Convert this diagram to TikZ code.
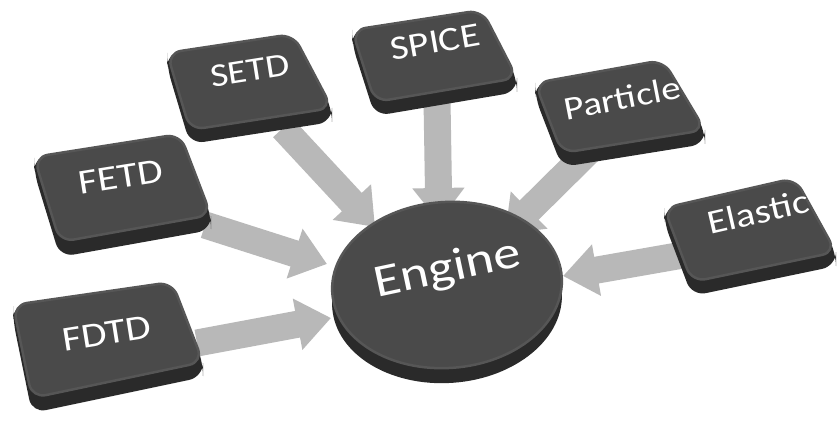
\documentclass[tikz,border=0pt]{standalone}
\usepackage{fontspec}
\setmainfont{Carlito}[FakeStretch=1.18]
\usetikzlibrary{arrows.meta}
\definecolor{keytop}{HTML}{4A4A4A}
\definecolor{keyrim}{HTML}{565656}
\definecolor{keyside}{HTML}{2A2A2A}
\definecolor{flowgray}{HTML}{B8B8B8}
\tikzset{
  flow/.style={draw=flowgray, line width=27pt, -{Triangle[width=50pt,length=34pt]}},
  sidefill/.style={fill=keyside, rounded corners=14pt},
  topfill/.style={fill=keytop, draw=keyrim, line width=2.5pt, rounded corners=14pt},
  keylabel/.style={text=white, inner sep=0pt},
}
% #1..#4 corners TL TR BR BL (bare x,y), #5 side depth
\newcommand\keybox[5]{%
  \fill[sidefill] (#1) -- (#2) -- (#3) -- ([yshift=-#5]#3) -- ([yshift=-#5]#4) -- ([yshift=-#5]#1) -- cycle;
  \path[topfill] (#1) -- (#2) -- (#3) -- (#4) -- cycle;
}
% #1 name, #2 position, #3 rotation, #4 text, #5 size
\newcommand\keytext[5]{%
  \node[keylabel, font=\fontsize{#5}{#5}\selectfont, rotate=#3] (#1) at (#2) {#4};
}
\begin{document}
\begin{tikzpicture}[x=1pt,y=-1pt]
\useasboundingbox[fill=white] (0,0) rectangle (838,425);

% arrow endpoints
\coordinate (fdtd-out) at (197,343);
\coordinate (fdtd-in)  at (331,318);
\coordinate (fetd-out) at (205,225);
\coordinate (fetd-in)  at (327,264);
\coordinate (setd-out) at (283,128);
\coordinate (setd-in)  at (375,227);
\coordinate (spice-out) at (437,100);
\coordinate (spice-in)  at (439,222);
\coordinate (part-out) at (600,140);
\coordinate (part-in)  at (505,234);
\coordinate (elas-out) at (700,252);
\coordinate (elas-in)  at (563,276);

% connectors
\draw[flow] (fdtd-out) -- (fdtd-in);
\draw[flow] (fetd-out) -- (fetd-in);
\draw[flow] (setd-out) -- (setd-in);
\draw[flow] (spice-out) -- (spice-in);
\draw[flow] (part-out) -- (part-in);
\draw[flow] (elas-out) -- (elas-in);

% keys
\keybox{13,305}{172,282}{203,362}{32,398}{15pt}
\keybox{34,157}{180,134}{211,215}{60,242}{15pt}
\keybox{167,53}{293,34}{332,108}{190,130}{14pt}
\keybox{352,30}{482,10}{517,78}{375,102}{14pt}
\keybox{535,83}{663,60}{705,130}{562,153}{14pt}
\keybox{664,208}{795,178}{836,252}{692,282}{14pt}

% engine
\foreach \s in {0,3,...,15}{
  \fill[keyside] ([yshift=-\s pt]447,285) ellipse[x radius=115pt, y radius=83pt, rotate=4];
}
\fill[keytop, draw=keyrim, line width=2.5pt] (447,285) ellipse[x radius=115pt, y radius=83pt, rotate=4];

% labels
\keytext{fdtd}{107,333}{9}{FDTD}{35}
\keytext{fetd}{121,177}{9}{FETD}{35}
\keytext{setd}{250,71}{9}{SETD}{33}
\keytext{spice}{435,42}{10}{SPICE}{34}
\keytext{particle}{622,98}{11}{Particle}{33}
\keytext{elastic}{758,212}{13}{Elastic}{34}
\keytext{engine}{448,270}{12}{Engine}{46}
\end{tikzpicture}
\end{document}
